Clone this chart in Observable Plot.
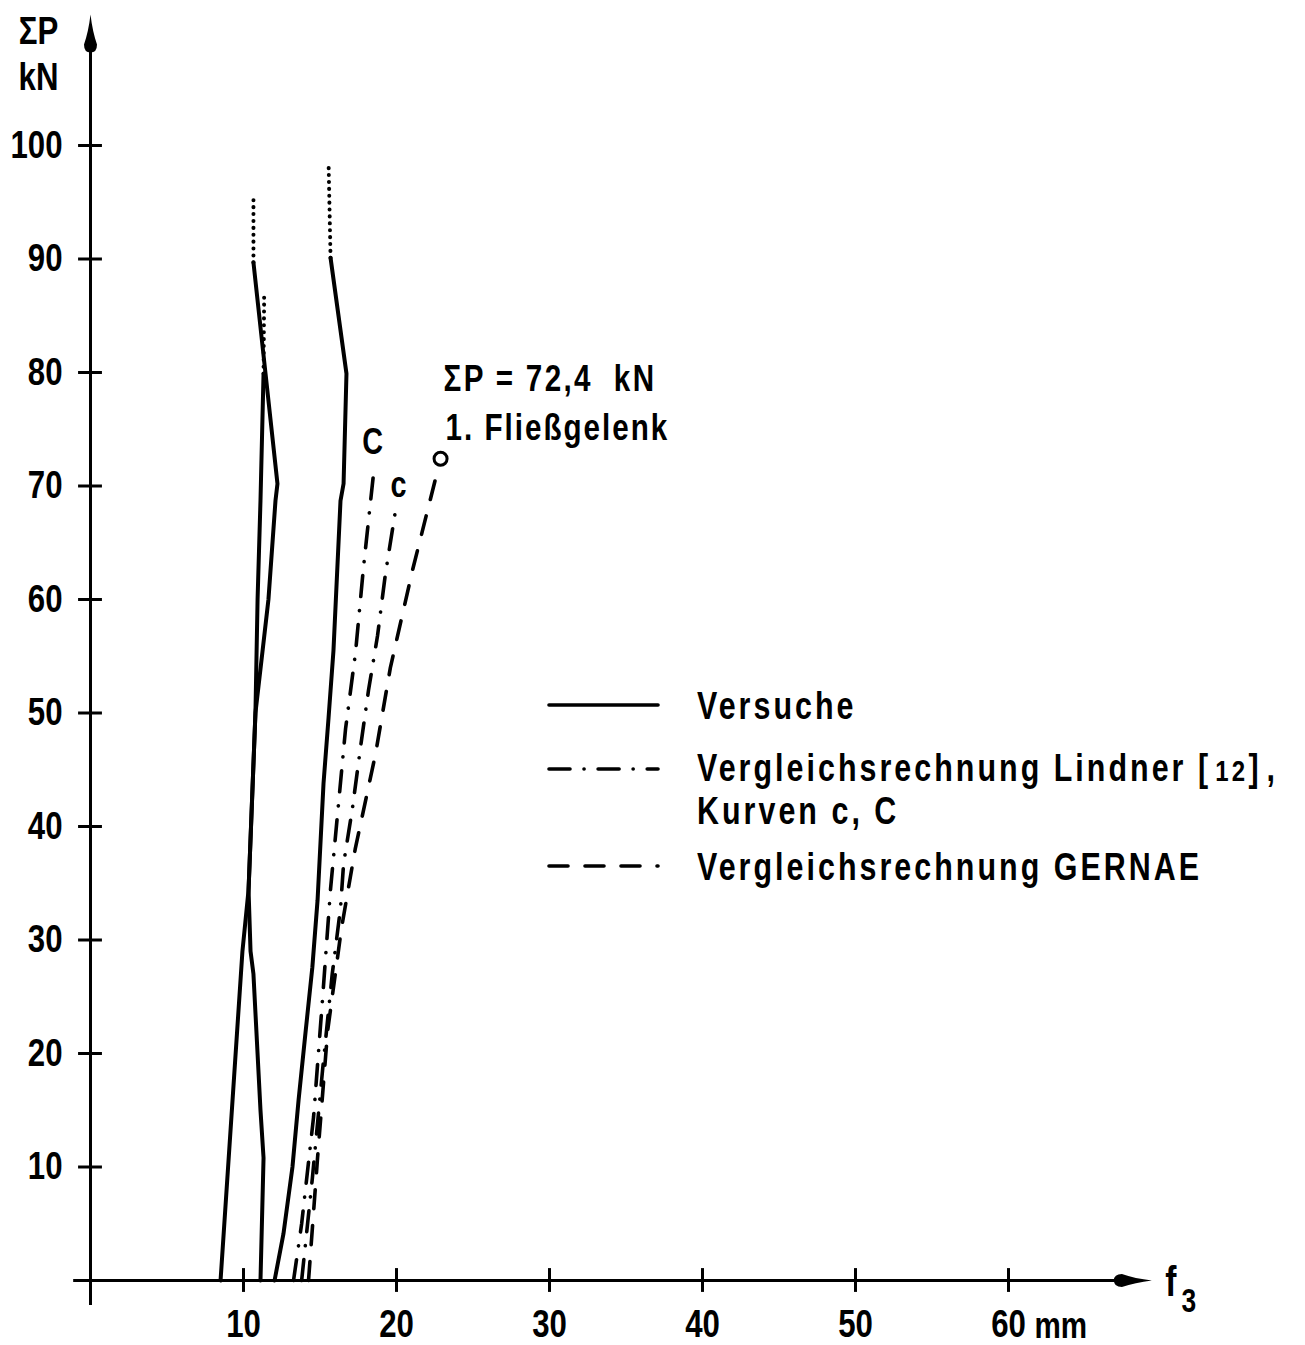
<!DOCTYPE html>
<html><head><meta charset="utf-8">
<script src="https://cdn.jsdelivr.net/npm/d3@7"></script>
<script src="https://cdn.jsdelivr.net/npm/@observablehq/plot@0.6"></script>
<style>
body{margin:0;background:#fff;}
#wrap{position:relative;width:1305px;height:1345px;overflow:hidden;}
#legend{position:absolute;left:0;top:0;}
</style></head><body><div id="wrap"></div>
<script>
const FONT = "'Liberation Sans', Arial, sans-serif";
const NARROW = 0.8; // horizontal condensing of all text

// Axis ticks
const xTicks = [10, 20, 30, 40, 50, 60];
const yTicks = [10, 20, 30, 40, 50, 60, 70, 80, 90, 100];

// Versuche (tests), [f3 mm, ΣP kN]
const versuche1 = [[8.5,0],[9.93,29],[10.33,34.4],[10.78,50],[11.63,60],[12.09,68.7],[12.22,70.2],[11.44,79.9],[10.65,89.7]];
const versuche1Dots = [[10.65,89.7],[10.65,95.5]];
const versuche2 = [[11.11,0],[11.31,10.8],[11.11,15],[10.65,27],[10.46,29],[10.33,34.4],[10.78,50],[10.92,60],[11.11,68.7],[11.31,79.9]];
const versuche2Dots = [[11.31,79.9],[11.35,86.8]];
const versuche3 = [[12.03,0],[12.61,4.1],[13.2,10],[13.6,15.9],[14.05,21.8],[14.5,27.6],[14.84,33.5],[15.23,43.8],[15.56,49.6],[15.88,55.5],[16.34,68.7],[16.54,70.2],[16.73,79.9],[15.69,90.1]];
const versuche3Dots = [[15.69,90.1],[15.56,98.5]];

// Lindner comparison, curves C and c
const lindnerC = [[13.27,0],[13.8,5],[14.58,14.4],[15.16,24.7],[15.69,34.5],[16.21,42],[16.67,48.6],[17.32,55.3],[17.84,62.8],[18.5,71.1]];
const lindnerc = [[13.8,0],[14.5,9],[15.2,19],[15.8,27],[16.34,32.8],[16.54,36.7],[17.12,41.6],[17.65,47],[18.17,52],[18.76,56.8],[19.28,62.3],[19.93,67.8]];
// GERNAE comparison
const gernae = [[14.25,0],[14.84,10.8],[15.5,22],[16.4,31],[17.3,38],[18.63,46.4],[19.6,54],[21.05,62.6],[22.88,72.4]];

const endC = lindnerC[lindnerC.length-1];
const endc = lindnerc[lindnerc.length-1];
const yieldPoint = gernae[gernae.length-1];
const yieldText = ["ΣP = 72,4  kN", "1. Fließgelenk"];

const axisTopY = 109.7;   // arrow centre on y axis (kN)
const axisRightX = 68.0;  // arrow centre on x axis (mm)

const X = d => d[0], Y = d => d[1];
const arrowSym = {
  draw(ctx) {
    ctx.moveTo(0,-21);
    ctx.quadraticCurveTo(2,-4,6.5,9);
    ctx.quadraticCurveTo(6.5,17,0,17);
    ctx.quadraticCurveTo(-6.5,17,-6.5,9);
    ctx.quadraticCurveTo(-2,-4,0,-21);
    ctx.closePath();
  }
};

const DASHDOT = "21,14,0.1,14";
const DASHED = "19,17";
const solid = {x: X, y: Y, stroke: "black", strokeWidth: 4, strokeLinejoin: "round", strokeLinecap: "round"};
const dotted = {x: X, y: Y, stroke: "black", strokeWidth: 4, strokeDasharray: "0.1,6.8", strokeLinecap: "round"};
const dashDot = {x: X, y: Y, stroke: "black", strokeWidth: 3.6, strokeDasharray: DASHDOT, strokeLinecap: "round"};
const dashed = {x: X, y: Y, stroke: "black", strokeWidth: 3.6, strokeDasharray: DASHED, strokeLinecap: "round"};
const bold = {fontWeight: "bold"};

const chart = Plot.plot({
  width: 1305, height: 1345,
  marginTop: 0, marginBottom: 0, marginLeft: 0, marginRight: 0,
  x: {domain: [0, 60], range: [90, 1008], axis: null},
  y: {domain: [0, 100], range: [1280, 145], axis: null},
  style: {fontFamily: FONT, background: "white", color: "black"},
  marks: [
    // axes
    Plot.ruleX([0], {y1: -2.2, y2: axisTopY, stroke: "black", strokeWidth: 3}),
    Plot.ruleY([0], {x1: -1.1, x2: axisRightX, stroke: "black", strokeWidth: 3}),
    Plot.ruleX(xTicks, {x: d => d, y1: -1.05, y2: 1.05, stroke: "black", strokeWidth: 3}),
    Plot.ruleY(yTicks, {y: d => d, x1: -0.78, x2: 0.78, stroke: "black", strokeWidth: 3}),
    Plot.dot([0], {x: 0, y: axisTopY, symbol: arrowSym, fill: "black", stroke: "none"}),
    Plot.dot([0], {x: axisRightX, y: 0, symbol: arrowSym, fill: "black", stroke: "none", rotate: 90}),
    Plot.text(xTicks, {x: d => d, y: 0, dy: 44, text: d => String(d), fontSize: 39, ...bold}),
    Plot.text(yTicks, {x: 0, y: d => d, dx: -28, text: d => String(d), textAnchor: "end", fontSize: 39, ...bold}),
    Plot.text(["mm"], {x: 60, y: 0, dx: 26, dy: 46, text: d => d, textAnchor: "start", fontSize: 37, ...bold}),
    Plot.text(["f"], {x: axisRightX, y: 0, dx: 40, dy: 2, text: d => d, fontSize: 42, ...bold}),
    Plot.text(["3"], {x: axisRightX, y: 0, dx: 58, dy: 21, text: d => d, fontSize: 33, ...bold}),
    Plot.text(["ΣP"], {x: 0, y: axisTopY, dx: -52, dy: -4, text: d => d, fontSize: 39, ...bold}),
    Plot.text(["kN"], {x: 0, y: axisTopY, dx: -52, dy: 42, text: d => d, fontSize: 39, ...bold}),

    // curves
    Plot.line(versuche1, solid),
    Plot.line(versuche1Dots, dotted),
    Plot.line(versuche2, solid),
    Plot.line(versuche2Dots, dotted),
    Plot.line(versuche3, solid),
    Plot.line(versuche3Dots, dotted),
    Plot.line(lindnerC, dashDot),
    Plot.line(lindnerc, dashDot),
    Plot.line(gernae, dashed),
    Plot.dot([yieldPoint], {x: X, y: Y, r: 6.5, stroke: "black", strokeWidth: 3, fill: "white"}),

    // annotations
    Plot.text([endC], {x: X, y: Y, dx: -1, dy: -31, text: () => "C", fontSize: 36, ...bold}),
    Plot.text([endc], {x: X, y: Y, dx: 3, dy: -26, text: () => "c", fontSize: 36, ...bold}),
    Plot.text([yieldPoint], {x: X, y: Y, dx: 3, dy: -80, text: () => yieldText[0], textAnchor: "start", fontSize: 37, ...bold}),
    Plot.text([yieldPoint], {x: X, y: Y, dx: 5, dy: -31, text: () => yieldText[1], textAnchor: "start", fontSize: 37, ...bold})
  ]
});

const wrap = document.getElementById("wrap");
wrap.appendChild(chart);

// letter spacing of the annotation at the first yield hinge
chart.querySelectorAll("text").forEach(t => {
  if (t.textContent === yieldText[0]) t.setAttribute("letter-spacing", "2.9");
  if (t.textContent === yieldText[1]) t.setAttribute("letter-spacing", "2.5");
});

// condense the chart's texts horizontally (narrow technical lettering)
chart.querySelectorAll("text").forEach(t => {
  const w = t.getComputedTextLength();
  if (w > 0) {
    t.setAttribute("textLength", (w * NARROW).toFixed(2));
    t.setAttribute("lengthAdjust", "spacingAndGlyphs");
  }
});

// Legend
const legendItems = [
  {dash: null, lineY: 705, texts: [{parts: [["Versuche"]], y: 719}]},
  {dash: DASHDOT, lineY: 769, texts: [{parts: [["Vergleichsrechnung Lindner "], ["[", null, 9], ["12", 30, 4], ["],", null, 10]], y: 781}, {parts: [["Kurven c, C"]], y: 824}]},
  {dash: DASHED, lineY: 866, texts: [{parts: [["Vergleichsrechnung GERNAE"]], y: 880}]}
];
const ns = "http://www.w3.org/2000/svg";
const lg = document.createElementNS(ns, "svg");
lg.setAttribute("id", "legend");
lg.setAttribute("width", 1305); lg.setAttribute("height", 1345);
lg.setAttribute("font-family", FONT);
const textGroup = document.createElementNS(ns, "g");
textGroup.setAttribute("transform", `translate(697,0) scale(${NARROW},1)`);
for (const it of legendItems) {
  const l = document.createElementNS(ns, "line");
  l.setAttribute("x1", 549); l.setAttribute("x2", 658);
  l.setAttribute("y1", it.lineY); l.setAttribute("y2", it.lineY);
  l.setAttribute("stroke", "black"); l.setAttribute("stroke-width", 3.6);
  l.setAttribute("stroke-linecap", "round");
  if (it.dash) l.setAttribute("stroke-dasharray", it.dash);
  lg.appendChild(l);
  for (const tx of it.texts) {
    const t = document.createElementNS(ns, "text");
    t.setAttribute("x", 0); t.setAttribute("y", tx.y);
    t.setAttribute("font-size", 38); t.setAttribute("font-weight", "bold");
    t.setAttribute("letter-spacing", "3.8");
    for (const [s, size, ls] of tx.parts) {
      const sp = document.createElementNS(ns, "tspan");
      if (size) sp.setAttribute("font-size", size);
      if (ls) sp.setAttribute("letter-spacing", ls);
      sp.textContent = s;
      t.appendChild(sp);
    }
    textGroup.appendChild(t);
  }
}
lg.appendChild(textGroup);
wrap.appendChild(lg);
</script></body></html>
